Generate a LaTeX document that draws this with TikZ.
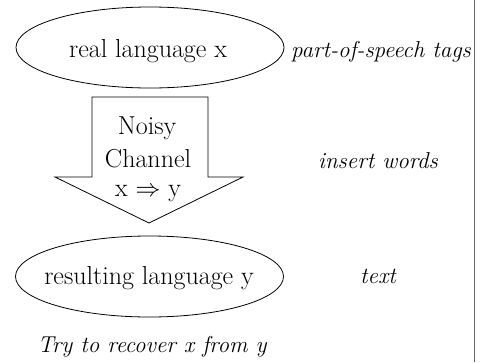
\documentclass[tikz,border=0pt]{standalone}
\usetikzlibrary{shapes.geometric}
\begin{document}
\begin{tikzpicture}[x=1pt,y=-1pt,
  lang/.style={draw,ellipse,line width=0.8pt,minimum width=268pt,minimum height=81pt,inner sep=0pt},
  roman/.style={font=\fontsize{26}{30}\selectfont,inner sep=0pt,anchor=base},
  note/.style={font=\fontsize{23}{27}\selectfont\itshape,inner sep=0pt,anchor=base}]
\useasboundingbox (0,0) rectangle (482,362);
% right-hand rule
\draw[line width=1pt,black!60] (474,0) -- (474,362);
% the two languages: fixed-size ellipses with their labels
\node[lang] (real) at (150,47.5) {};
\node[roman] (reallbl) at (148,57) {real language x};
\node[lang] (result) at (149.5,276.5) {};
\node[roman] (resultlbl) at (149,284) {resulting language y};
% the noisy channel as a block arrow
\draw[line width=0.8pt,line join=miter]
  (92,97) -- (208,97) -- (208,177) -- (243,177) -- (149,223) -- (55,177) -- (92,177) -- cycle;
\node[roman] (noisy) at (147,134) {Noisy};
\node[roman] (channel) at (148,167) {Channel};
\node[roman] (map) at (148,196) {x $\Rightarrow$ y};
% annotations
\node[note] (pos) at (381,57) {part-of-speech tags};
\node[note] (ins) at (378,168) {insert words};
\node[note] (txt) at (378,283) {text};
\node[note] (try) at (152,352) {Try to recover x from y};
\end{tikzpicture}
\end{document}
